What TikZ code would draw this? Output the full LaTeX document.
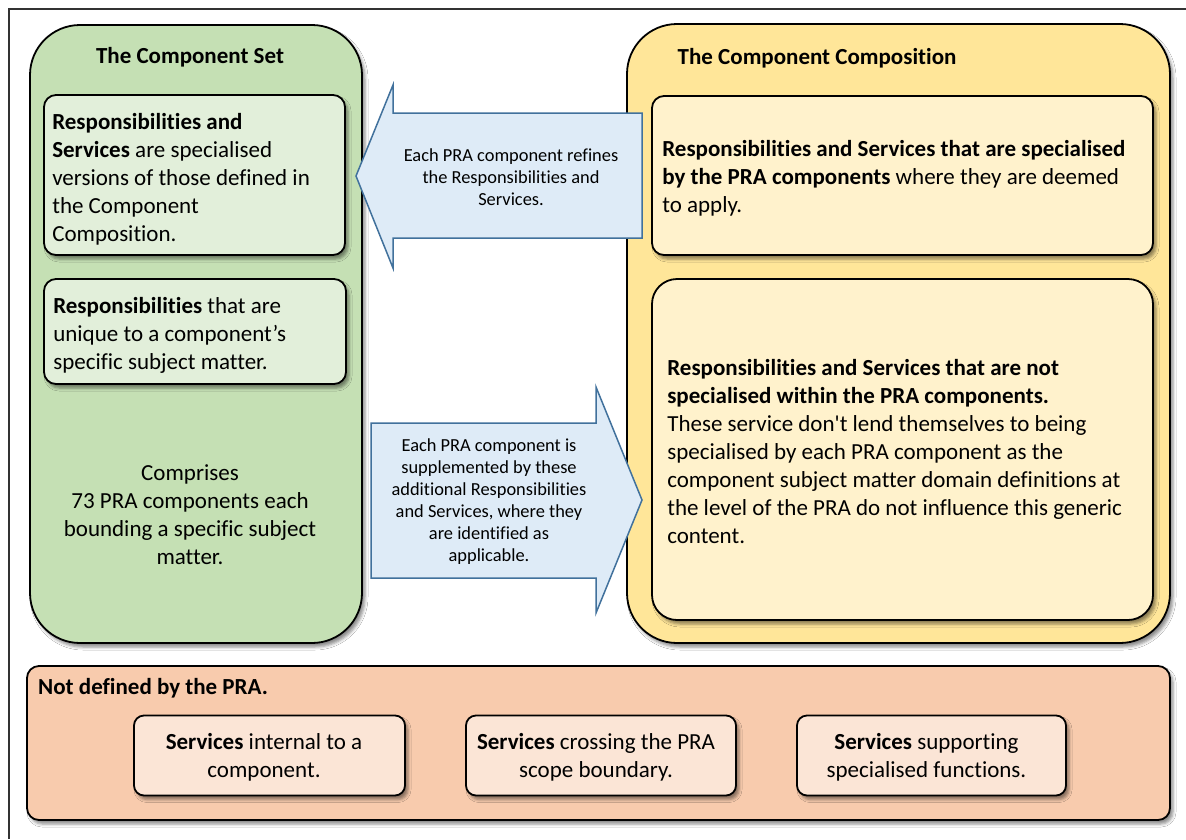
\documentclass[tikz,border=0pt]{standalone}
\usepackage{fontspec}
\setmainfont{Carlito}[Ligatures={TeXOff,CommonOff}]
\usetikzlibrary{shadows.blur}

\definecolor{setgreen}{HTML}{C5E0B4}
\definecolor{setgreenlight}{HTML}{E2EFDA}
\definecolor{compyellow}{HTML}{FFE699}
\definecolor{compyellowlight}{HTML}{FFF2CC}
\definecolor{undefpeach}{HTML}{F8CBAD}
\definecolor{undefpeachlight}{HTML}{FBE5D6}
\definecolor{arrowfill}{HTML}{DEEBF7}
\definecolor{arrowline}{HTML}{41719C}
\definecolor{framegray}{HTML}{333333}

\tikzset{
  softshadow/.style={blur shadow={shadow xshift=3pt, shadow yshift=-4pt,
      shadow blur radius=3pt, shadow opacity=45}},
  panel/.style={draw=black, line width=1.8pt, rounded corners=50pt,
      softshadow, inner sep=0pt},
  card/.style={draw=black, line width=1.8pt, rounded corners=12pt,
      softshadow},
  smallcard/.style={card, fill=undefpeachlight, rounded corners=10pt,
      minimum height=80pt},
  bodytext/.style={font=\fontsize{23}{28}\selectfont},
  cardtext/.style={bodytext, align=left, anchor=west, inner sep=0pt},
  centertext/.style={bodytext, align=center, inner sep=0pt},
  titletext/.style={font=\fontsize{23}{28}\selectfont\bfseries, inner sep=0pt},
  arrowtext/.style={font=\fontsize{18.4}{22}\selectfont, align=center},
  blockarrow/.style={draw=arrowline, fill=arrowfill, line width=1.5pt,
      line join=miter},
}

\begin{document}
\begin{tikzpicture}[x=1pt, y=-1pt]
  \useasboundingbox (0,0) rectangle (1186,839);
  \fill[white] (0,0) rectangle (1186,839);
  % page frame (runs off the right and bottom edges)
  \draw[framegray, line width=1.4pt] (9,839) -- (9,9) -- (1186,9);

  % the two main panels
  \node[panel, fill=setgreen, minimum width=332pt, minimum height=618pt]
    (set) at (196,334) {};
  \node[panel, fill=compyellow, minimum width=543pt, minimum height=619pt]
    (comp) at (898.5,333.5) {};

  \node[titletext, anchor=base] (settitle) at (190,63.5) {The Component Set};
  \node[titletext, anchor=base west] (comptitle) at (677.5,64)
    {The Component Composition};

  % cards of the component set
  \node[card, fill=setgreenlight, minimum width=301pt, minimum height=160pt]
    (specialised) at (194.5,175) {};
  \node[cardtext] (specialisedtext)
    at ([xshift=9pt, yshift=-4pt]specialised.west)
    {\textbf{Responsibilities and}\\
     \textbf{Services} are specialised\\
     versions of those defined in\\
     the Component\\
     Composition.};
  \node[card, fill=setgreenlight, minimum width=302pt, minimum height=105pt]
    (unique) at (195,331.5) {};
  \node[cardtext] (uniquetext)
    at ([xshift=10pt, yshift=-4pt]unique.west)
    {\textbf{Responsibilities} that are\\
     unique to a component’s\\
     specific subject matter.};
  \node[bodytext, align=center] (comprises) at (190,514.5)
    {Comprises\\
     73 PRA components each\\
     bounding a specific subject\\
     matter.};

  % cards of the component composition
  \node[card, fill=compyellowlight, minimum width=501pt, minimum height=159pt]
    (byPRA) at (902.5,175.5) {};
  \node[cardtext] (byPRAtext)
    at ([xshift=11pt, yshift=-3pt]byPRA.west)
    {\textbf{Responsibilities and Services that are specialised}\\
     \textbf{by the PRA components} where they are deemed\\
     to apply.};
  \node[card, fill=compyellowlight, rounded corners=25pt,
        minimum width=501pt, minimum height=341pt]
    (generic) at (902.5,449.5) {};
  \node[cardtext] (generictext)
    at ([xshift=16pt, yshift=-2.5pt]generic.west)
    {\textbf{Responsibilities and Services that are not}\\
     \textbf{specialised within the PRA components.}\\
     These service don't lend themselves to being\\
     specialised by each PRA component as the\\
     component subject matter domain definitions at\\
     the level of the PRA do not influence this generic\\
     content.};

  % block arrows between the panels
  \draw[blockarrow] (642,113) -- (393,113) -- (393,85) -- (356,176)
    -- (393,268) -- (393,238) -- (642,238) -- cycle;
  \node[arrowtext] (refines) at (511,177)
    {Each PRA component refines\\
     the Responsibilities and\\
     Services.};
  \draw[blockarrow] (371,423) -- (596,423) -- (596,387) -- (642,500)
    -- (596,613) -- (596,578) -- (371,578) -- cycle;
  \node[arrowtext] (supplements) at (489,502)
    {Each PRA component is\\
     supplemented by these\\
     additional Responsibilities\\
     and Services, where they\\
     are identified as\\
     applicable.};

  % services outside the PRA
  \node[card, fill=undefpeach, minimum width=1143pt, minimum height=154pt]
    (undef) at (598.5,743) {};
  \node[titletext, anchor=base west] (undeftitle) at (38,694.5)
    {Not defined by the PRA.};
  \node[smallcard, minimum width=271pt] (internal) at (269.5,755.5) {};
  \node[centertext] (internaltext) at ([xshift=-5.5pt, yshift=-1.5pt]internal.center)
    {\textbf{Services} internal to a\\ component.};
  \node[smallcard, minimum width=270pt] (crossing) at (601,755.5) {};
  \node[centertext] (crossingtext) at ([xshift=-5pt, yshift=-1.5pt]crossing.center)
    {\textbf{Services} crossing the PRA\\ scope boundary.};
  \node[smallcard, minimum width=269pt] (supporting) at (931.5,755.5) {};
  \node[centertext] (supportingtext) at ([xshift=-5pt, yshift=-1.5pt]supporting.center)
    {\textbf{Services} supporting\\ specialised functions.};
\end{tikzpicture}
\end{document}
